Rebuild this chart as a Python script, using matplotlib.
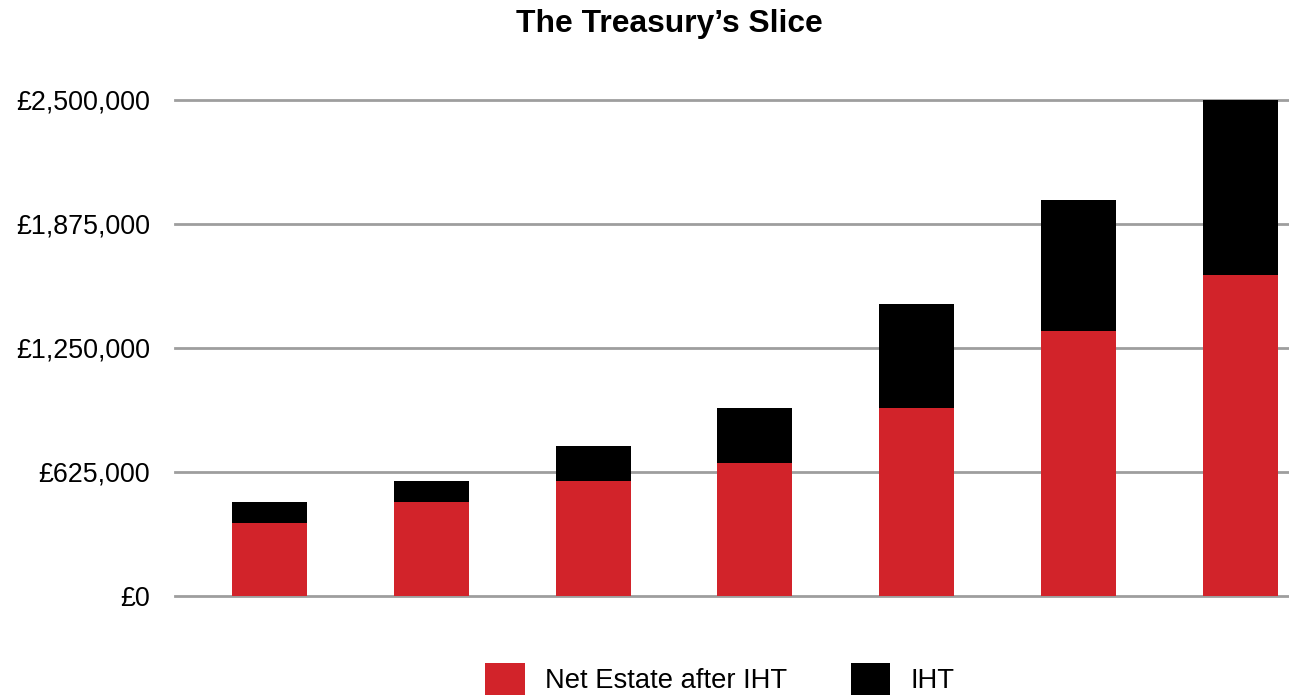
import matplotlib
matplotlib.use("Agg")
import matplotlib.pyplot as plt
from matplotlib.ticker import FuncFormatter

# estate values
net_estate = [367500, 473000, 579000, 670000, 947500, 1335000, 1617500]
totals = [473000, 579000, 755000, 947500, 1470000, 1995000, 2500000]
iht = [t - n for t, n in zip(totals, net_estate)]
yticks = [0, 625000, 1250000, 1875000, 2500000]

red = "#d2232a"
grid_col = "#9e9e9e"

plt.rcParams["font.family"] = ["Liberation Sans", "DejaVu Sans"]

fig = plt.figure(figsize=(12.89, 6.99), dpi=100)
# axes placed in pixel terms of the reference
ax = fig.add_axes([175 / 1289, 103 / 699, 1114 / 1289, 506.4 / 699])

x = list(range(len(net_estate)))
w = 75 / 161.8
ax.bar(x, net_estate, width=w, color=red, zorder=3, label="Net Estate after IHT")
ax.bar(x, iht, width=w, bottom=net_estate, color="black", zorder=3, label="IHT")

ax.set_xlim((175 - 269.5) / 161.8, (1289 - 269.5) / 161.8)
ax.set_ylim(0, 2550000)
ax.set_yticks(yticks)
ax.yaxis.set_major_formatter(FuncFormatter(lambda v, p: "£{:,.0f}".format(v)))
ax.tick_params(axis="y", length=0, labelsize=19.4, pad=18)
ax.set_xticks([])
for s in ax.spines.values():
    s.set_visible(False)
ax.grid(axis="y", color=grid_col, linewidth=2, zorder=0)
ax.set_axisbelow(True)
for gl in ax.get_ygridlines():
    gl.set_clip_on(False)

fig.text(669 / 1289, 1 - 24 / 699, "The Treasury\u2019s Slice", ha="center", va="center",
         fontsize=22.9, fontweight="bold")

fig.legend(loc="center", bbox_to_anchor=(720 / 1289, 20 / 699), ncol=2, frameon=False,
           fontsize=19.7, handlelength=1.46, handleheight=1.46, handletextpad=0.75,
           columnspacing=2.3, borderpad=0)

fig.savefig("out.png", dpi=100)
